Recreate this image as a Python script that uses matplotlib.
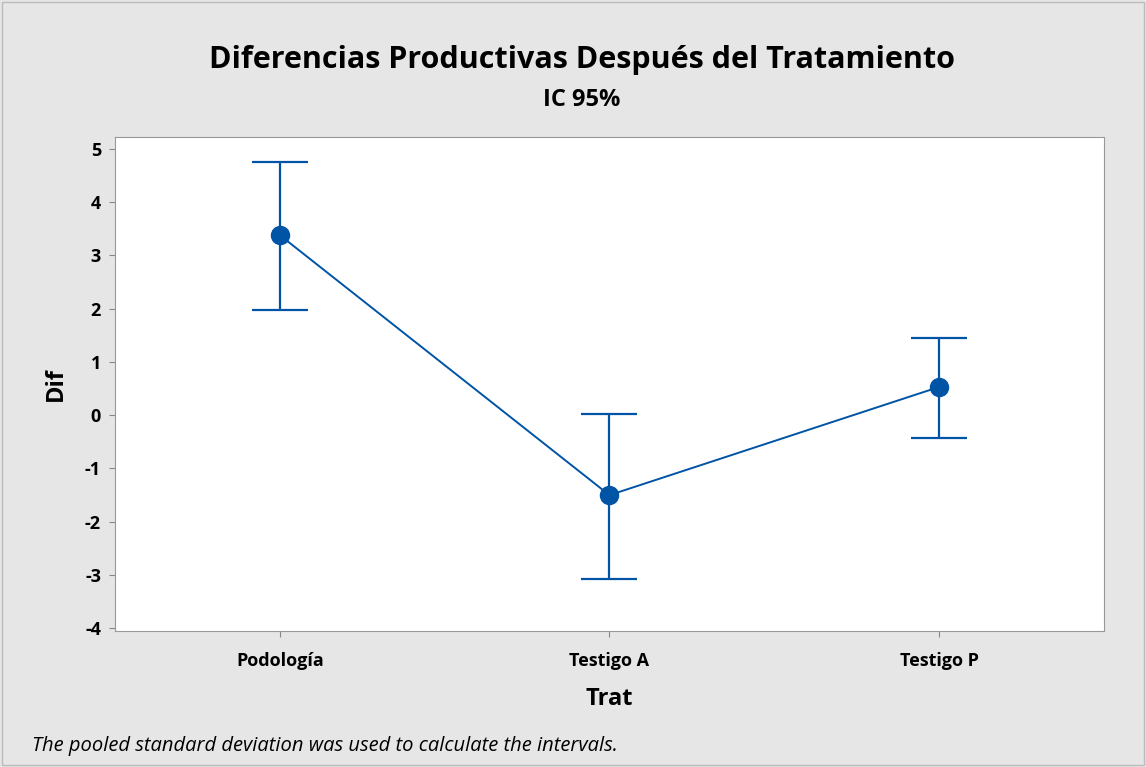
import matplotlib.pyplot as plt
import numpy as np

plt.rcParams['font.family'] = ['Open Sans', 'DejaVu Sans']
plt.rcParams['axes.unicode_minus'] = False

trat = ["Podología", "Testigo A", "Testigo P"]
media = [3.38, -1.50, 0.53]
superior = [4.75, 0.02, 1.45]
inferior = [1.98, -3.08, -0.42]

azul = "#0054A6"
gris = "#E6E6E6"

fig = plt.figure(figsize=(11.46, 7.67), dpi=100, facecolor=gris)
ax = fig.add_axes([0.1003, 0.1773, 0.863, 0.644])

x = np.arange(1, len(trat) + 1)
media = np.array(media)
yerr = [media - np.array(inferior), np.array(superior) - media]

ax.errorbar(x, media, yerr=yerr, fmt='none', ecolor=azul, elinewidth=1.6,
            capsize=20, capthick=1.6)
ax.plot(x, media, color=azul, lw=1.4, marker='o', markersize=13, zorder=3)

ax.set_xlim(0.5, 3.5)
ax.set_ylim(-4.05, 5.22)
ax.set_yticks(range(-4, 6))
ax.set_xticks(x)
ax.set_xticklabels(trat)
for lab in ax.get_xticklabels() + ax.get_yticklabels():
    lab.set_fontweight('bold')
    lab.set_fontsize(13)
ax.tick_params(colors='#888888', labelcolor='black', length=4)
ax.tick_params(axis='x', pad=11)
ax.tick_params(axis='y', pad=6)
for s in ax.spines.values():
    s.set_color('#999999')

ax.set_ylabel("Dif", fontsize=17, fontweight='bold', labelpad=12)
ax.set_xlabel("Trat", fontsize=17, fontweight='bold', labelpad=12)

fig.text(0.508, 0.922, "Diferencias Productivas Después del Tratamiento",
         ha='center', va='center', fontsize=22, fontweight='bold')
fig.text(0.508, 0.869, "IC 95%", ha='center', va='center',
         fontsize=17, fontweight='bold')
fig.text(0.028, 0.028, "The pooled standard deviation was used to calculate the intervals.",
         ha='left', va='center', fontsize=14.5, style='italic')

fig.patches.append(plt.Rectangle((0.002, 0.002), 0.996, 0.996, transform=fig.transFigure,
                                 fill=False, edgecolor='#BBBBBB', lw=1))

fig.savefig("out.png", dpi=100, facecolor=gris)
